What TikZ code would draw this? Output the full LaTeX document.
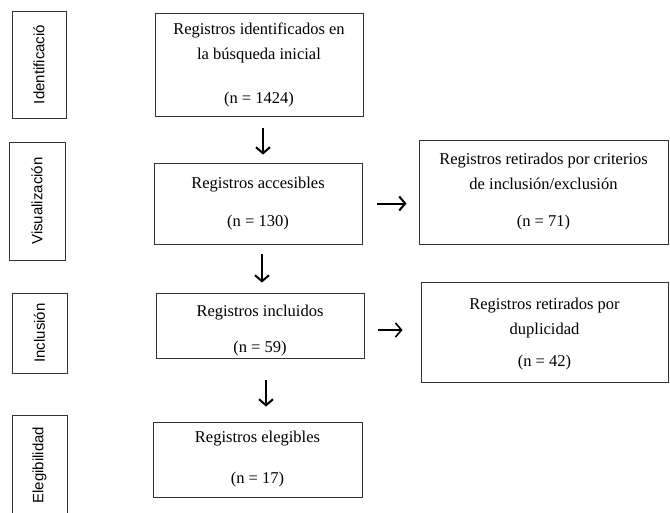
\documentclass[tikz,border=0pt]{standalone}
\usepackage{fontspec}
\setmainfont{Liberation Serif}
\newfontfamily\labelsans{Liberation Sans}
\usetikzlibrary{arrows.meta}
\begin{document}
\begin{tikzpicture}[x=1pt,y=-1pt,
  box/.style={draw=black!80, line width=0.9pt, rectangle, inner sep=0pt, align=center,
    font=\fontsize{16.5}{25}\selectfont},
  stage/.style={draw=black!80, line width=0.9pt, rectangle, inner sep=0pt, rotate=90,
    font=\labelsans\fontsize{15}{18}\selectfont},
  arr/.style={line width=2pt, -{Straight Barb[length=6pt,width=14pt]}}]
\useasboundingbox (0,0) rectangle (670,512);
% stage labels
\node[stage, minimum width=107, minimum height=54] (s1) at (39,64.5) {Identificació};
\node[stage, minimum width=118, minimum height=56] (s2) at (37,201) {Visualización};
\node[stage, minimum width=80, minimum height=55] (s3) at (39.5,333) {Inclusión};
\node[stage, minimum width=100, minimum height=55] (s4) at (39.5,465) {Elegibilidad};
% main boxes
\node[box, minimum width=208, minimum height=103] (b1) at (259,64.5)
  {Registros identificados en\\la búsqueda inicial\\[19pt](n = 1424)};
\node[box, minimum width=208, minimum height=81] (b2) at (258,203.5)
  {Registros accesibles\\[13pt](n = 130)};
\node[box, minimum width=208, minimum height=65] (b3) at (260,325.5)
  {\rule{0pt}{22pt}Registros incluidos\\[11pt](n = 59)};
\node[box, minimum width=209, minimum height=75] (b4) at (257.5,459.5)
  {Registros elegibles\\[16pt](n = 17)};
% side boxes
\node[box, minimum width=249, minimum height=104] (r1) at (543.5,192)
  {Registros retirados por criterios\\de inclusión/exclusión\\[12pt](n = 71)};
\node[box, minimum width=247, minimum height=100] (r2) at (544.5,332)
  {\rule{0pt}{16pt}Registros retirados por\\duplicidad\\[7pt](n = 42)};
% arrows
\draw[arr, shorten <=12pt, shorten >=8pt] ([xshift=4pt]b1.south) -- ([xshift=4pt]b1.south |- b2.north);
\draw[arr, shorten <=10pt, shorten >=10pt] ([xshift=4pt]b2.south) -- ([xshift=4pt]b2.south |- b3.north);
\draw[arr, shorten <=22pt, shorten >=15pt] ([xshift=6pt]b3.south) -- ([xshift=6pt]b3.south |- b4.north);
\draw[arr, shorten <=15pt, shorten >=12pt] (b2.east) -- (b2.east -| r1.west);
\draw[arr, line width=1.6pt, shorten <=14pt, shorten >=18pt] ([yshift=-4.5pt]b3.east) -- ([yshift=-4.5pt]b3.east -| r2.west);
\end{tikzpicture}
\end{document}
